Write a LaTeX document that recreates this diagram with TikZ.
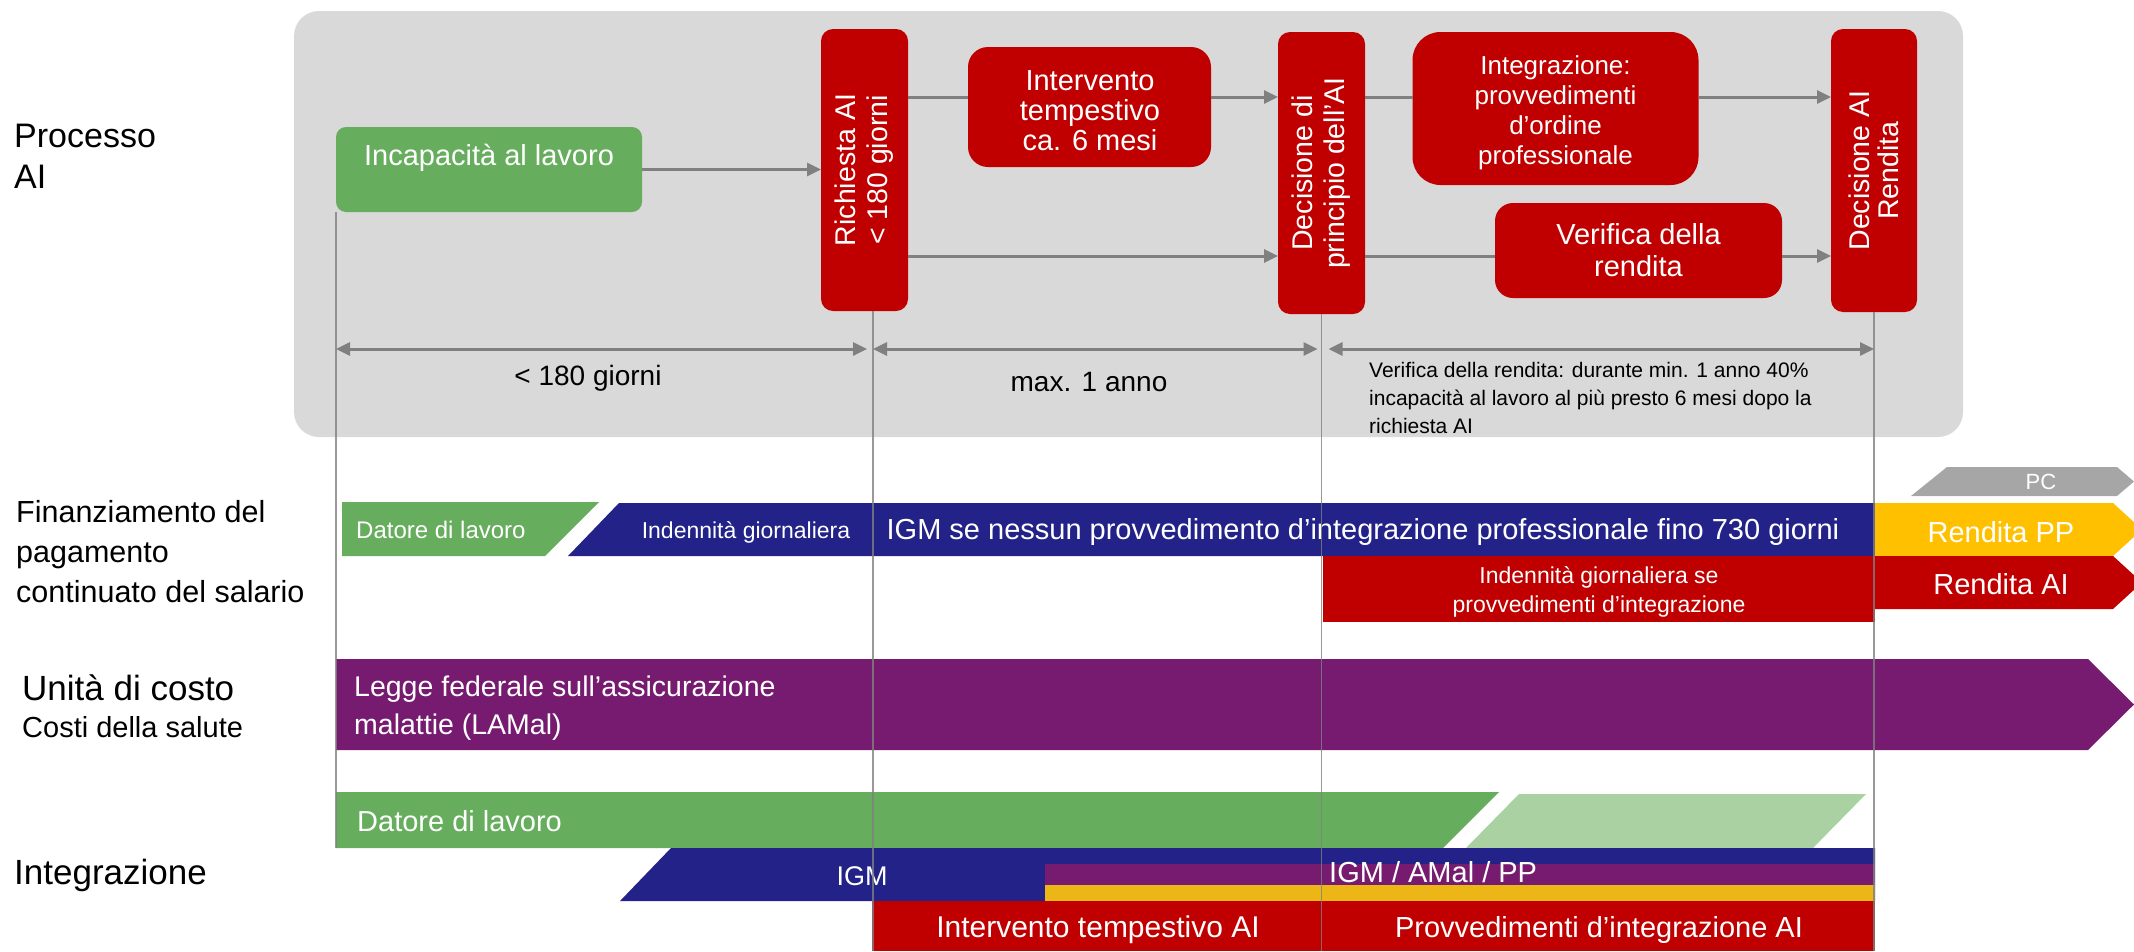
\documentclass[tikz,border=0pt]{standalone}
\usepackage{fontspec}
\setmainfont{Liberation Sans}
\usetikzlibrary{arrows.meta}
\definecolor{cgreen}{RGB}{103,173,94}
\definecolor{clgreen}{RGB}{169,209,161}
\definecolor{cred}{RGB}{192,0,0}
\definecolor{cnavy}{RGB}{34,34,136}
\definecolor{cpurple}{RGB}{118,27,111}
\definecolor{cyellow}{RGB}{255,192,0}
\definecolor{cyellowb}{RGB}{236,183,22}
\definecolor{cbox}{RGB}{217,217,217}
\definecolor{cline}{RGB}{128,128,128}
\definecolor{cpc}{RGB}{166,166,166}
\newcommand{\fsz}[2]{\fontsize{#1}{#2}\selectfont}
\begin{document}
\begin{tikzpicture}[x=1pt,y=-1pt,
  box/.style={draw=none, inner sep=0pt, outer sep=0pt},
  redbox/.style={box, fill=cred},
  wtxt/.style={text=white, inner sep=0pt},
  btxt/.style={text=black, inner sep=0pt},
  conn/.style={draw=cline, line width=3pt},
  arr/.style={conn, -{Triangle[length=14pt,width=13pt]}},
  dim/.style={conn, {Triangle[length=14pt,width=13pt]}-{Triangle[length=14pt,width=13pt]}},
  vline/.style={draw=cline, line width=1.8pt, opacity=0.8},
]
\useasboundingbox (0,0) rectangle (2134,951);
\clip (0,0) rectangle (2134,951);

% background panel
\node[box, fill=cbox, rounded corners=25pt, minimum width=1669pt, minimum height=426pt] (bg) at (1128.5,224) {};

% left labels
\node[btxt, anchor=west, align=left, font=\fsz{34}{41}] (lp) at (14,156.5) {Processo\\AI};
\node[btxt, anchor=west, align=left, font=\fsz{30.5}{40}] (lf) at (16,552) {Finanziamento del\\pagamento\\continuato del salario};
\node[btxt, anchor=west, font=\fsz{35}{40}] (lu) at (22,688) {Unità di costo};
\node[btxt, anchor=west, font=\fsz{29}{34}] (lc) at (22,727) {Costi della salute};
\node[btxt, anchor=west, font=\fsz{35}{40}] (li) at (14,875) {Integrazione};

% process boxes
\node[box, fill=cgreen, rounded corners=10pt, minimum width=306pt, minimum height=85pt] (inc) at (489,169.5) {};
\node[wtxt, font=\fsz{29}{32}] (inct) at (489,158) {Incapacità al lavoro};

\node[redbox, rounded corners=12pt, minimum width=87pt, minimum height=282pt] (rich) at (864.5,170) {};
\node[wtxt, rotate=90, align=center, font=\fsz{28.5}{32}] (richt) at (rich.center) {Richiesta AI\\< 180 giorni};

\node[redbox, rounded corners=20pt, minimum width=243pt, minimum height=120pt] (int) at (1089.5,107) {};
\node[wtxt, align=center, font=\fsz{29}{30}] (intt) at (1090,111) {Intervento\\tempestivo\\ca. 6 mesi};

\node[redbox, rounded corners=12pt, minimum width=87pt, minimum height=282pt] (dp) at (1321.5,173) {};
\node[wtxt, rotate=90, align=center, font=\fsz{28.5}{32}] (dpt) at (dp.center) {Decisione di\\principio dell’AI};

\node[redbox, rounded corners=28pt, minimum width=286pt, minimum height=153pt] (integ) at (1555.5,108.5) {};
\node[wtxt, align=center, font=\fsz{26}{30}] (integt) at (1555.5,113) {Integrazione:\\provvedimenti\\d’ordine\\professionale};

\node[redbox, rounded corners=18pt, minimum width=287pt, minimum height=95pt] (ver) at (1638.5,250.5) {};
\node[wtxt, align=center, font=\fsz{29}{32}] (vert) at (ver.center) {Verifica della\\rendita};

\node[redbox, rounded corners=12pt, minimum width=86pt, minimum height=283pt] (dar) at (1874,170.5) {};
\node[wtxt, rotate=90, align=center, font=\fsz{28.5}{29}] (dart) at (dar.center) {Decisione AI\\Rendita};

% process connectors
\coordinate (r1) at (0,97);
\coordinate (r2) at (0,256);
\draw[arr] (inc.east) -- (inc.east -| rich.west);
\draw[conn] (rich.east |- r1) -- (int.west |- r1);
\draw[arr] (int.east |- r1) -- (dp.west |- r1);
\draw[conn] (dp.east |- r1) -- (integ.west |- r1);
\draw[arr] (integ.east |- r1) -- (dar.west |- r1);
\draw[arr] (rich.east |- r2) -- (dp.west |- r2);
\draw[conn] (dp.east |- r2) -- (ver.west |- r2);
\draw[arr] (ver.east |- r2) -- (dar.west |- r2);

% timeline coordinates
\coordinate (v1) at (inc.south west);
\coordinate (v2) at ([xshift=8.5pt]rich.south);
\coordinate (v3) at (dp.south);
\coordinate (v4) at (dar.south);
\coordinate (ybot) at (0,951);
\coordinate (v1end) at (336,848);
\coordinate (dy) at (0,349);

% dimension arrows
\draw[dim, shorten >=6pt] (v1 |- dy) -- (v2 |- dy);
\draw[dim, shorten >=4pt] (v2 |- dy) -- (v3 |- dy);
\draw[dim, shorten <=7pt] (v3 |- dy) -- (v4 |- dy);
\node[btxt, font=\fsz{28}{32}] (d1) at (588,378) {< 180 giorni};
\node[btxt, font=\fsz{28}{32}] (d2) at (1089,382) {max. 1 anno};
\node[btxt, anchor=west, align=left, font=\fsz{21}{28}] (d3) at (1369,398) {Verifica della rendita: durante min. 1 anno 40\%\\incapacità al lavoro al più presto 6 mesi dopo la\\richiesta AI};

% financing row
\fill[cgreen] (342,502) -- (599,502) -- (545,556) -- (342,556) -- cycle;
\fill[cnavy] (619,503) -- (1875,503) -- (1875,556) -- (568,556) -- cycle;
\fill[cyellow] (1875,503) -- (2113,503) -- (2142,529.5) -- (2113,556) -- (1875,556) -- cycle;
\fill[cpc] (1947,467) -- (2117,467) -- (2134,481.5) -- (2117,496) -- (1911,496) -- cycle;
\fill[cred] (1323,556) rectangle (1875,622);
\fill[cred] (1875,556) -- (2113,556) -- (2142,582.5) -- (2113,609) -- (1875,609) -- cycle;

% cost unit row
\fill[cpurple] (336,659) -- (2088,659) -- (2134,704.5) -- (2088,750) -- (336,750) -- cycle;

% integration rows
\fill[cgreen] (336,792) -- (1499,792) -- (1443,848) -- (336,848) -- cycle;
\fill[clgreen] (1519,794) -- (1866,794) -- (1813,848) -- (1466,848) -- cycle;
\fill[cnavy] (671,848) -- (1875,848) -- (1875,901) -- (620,901) -- cycle;
\fill[cpurple] (1045,864) rectangle (1875,885);
\fill[cyellowb] (1045,885) rectangle (1875,901);
\fill[cred] (872,901) rectangle (1875,951);

% band texts
\node[wtxt, anchor=west, font=\fsz{24}{28}] (t1) at (356,530) {Datore di lavoro};
\node[wtxt, font=\fsz{23}{28}] (t2) at (746,532) {Indennità giornaliera};
\node[wtxt, font=\fsz{29}{32}] (t3) at (1363,532) {IGM se nessun provvedimento d’integrazione professionale fino 730 giorni};
\node[wtxt, font=\fsz{29}{32}] (t4) at (2001,532) {Rendita PP};
\node[wtxt, font=\fsz{22}{26}] (t5) at (2041,482) {PC};
\node[wtxt, align=center, font=\fsz{23}{29}] (t6) at (1599,592) {Indennità giornaliera se\\provvedimenti d’integrazione};
\node[wtxt, font=\fsz{29}{32}] (t7) at (2001,584) {Rendita AI};
\node[wtxt, anchor=west, align=left, font=\fsz{28.5}{38}] (t8) at (354,708) {Legge federale sull’assicurazione\\malattie (LAMal)};
\node[wtxt, anchor=west, font=\fsz{29}{32}] (t9) at (357,821) {Datore di lavoro};
\node[wtxt, font=\fsz{27}{30}] (t10) at (862,876) {IGM};
\node[wtxt, anchor=west, font=\fsz{29}{32}] (t11) at (1329,872) {IGM / AMal / PP};
\node[wtxt, font=\fsz{30}{32}] (t12) at (1098,930) {Intervento tempestivo AI};
\node[wtxt, font=\fsz{29}{32}] (t13) at (1599,930) {Provvedimenti d’integrazione AI};

% vertical timeline lines
\draw[vline] (v1) -- (v1end);
\draw[vline] (v2) -- (v2 |- ybot);
\draw[vline] (v3) -- (v3 |- ybot);
\draw[vline] (v4) -- (v4 |- ybot);
\end{tikzpicture}
\end{document}
